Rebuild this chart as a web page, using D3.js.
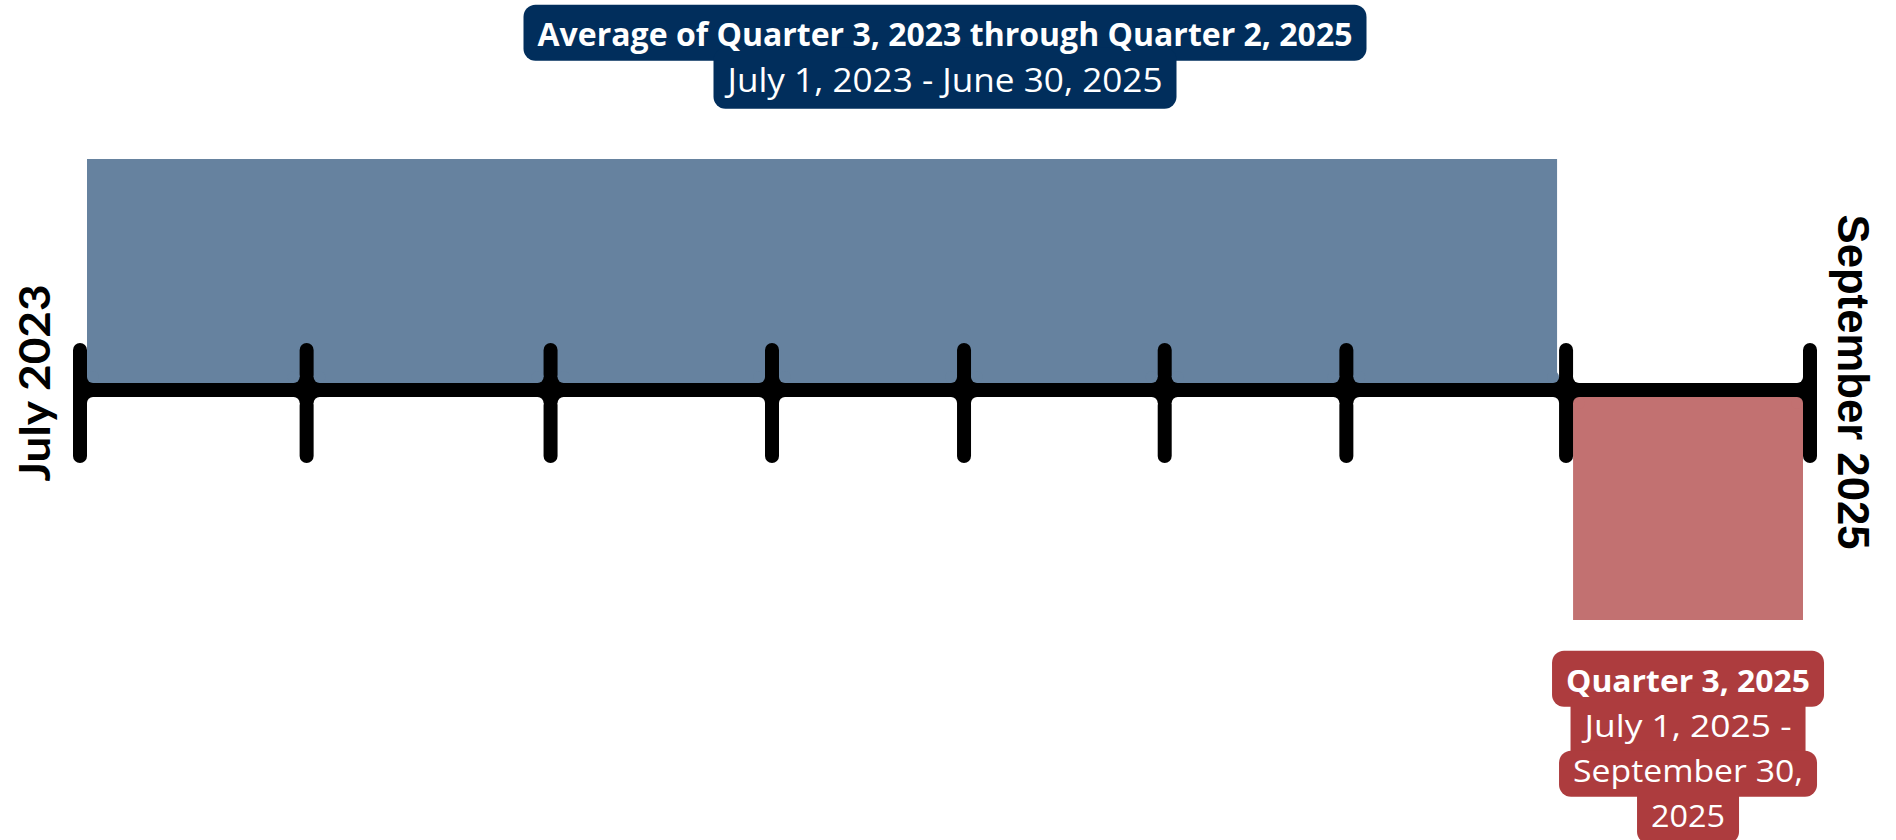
<!DOCTYPE html>
<html>
    <head>
        <meta charset="utf-8">
        <title>Timeline</title>
        <script src="https://d3js.org/d3.v7.min.js"></script>
        <style>
            body { margin: 0; background: #fff; }
        </style>
    </head>
    <body>
        <div id="my_dataviz"></div>

        <script>
            // tick positions along the timeline (0 = July 2023, 100 = end of September 2025)
            var tickPositions = [0, 13.1, 27.2, 40.0, 51.1, 62.7, 73.2, 85.9, 100];

            // end labels
            var startLabel = "July 2023";
            var endLabel = "September 2025";

            // the two periods: which ticks they span and which side of the axis
            var periodNames = ["average", "current"];
            var periodStart = [0, 7];
            var periodEnd = [7, 8];
            var periodValue = [1, -1];
            var periodLines = [
                ["Average of Quarter 3, 2023 through Quarter 2, 2025", "July 1, 2023 - June 30, 2025"],
                ["Quarter 3, 2025", "July 1, 2025 -", "September 30,", "2025"]
            ];

            var barColor = {average: "#66829f", current: "#c27171"};
            var labelColor = {average: "#012e5c", current: "#ad3c3e"};

            var width = 1896, height = 840;
            var axisY = 390, half = 7, r = 6;

            var svg = d3.select("#my_dataviz")
              .append("svg")
                .attr("width", width)
                .attr("height", height);

            var x = d3.scaleLinear()
                .domain([0, 100])
                .range([80, 1810]);

            var y = d3.scaleLinear()
                .domain([-1, 1])
                .range([620, 159]);

            // bars
            periodNames.forEach(function (p, i) {
                var x0 = x(tickPositions[periodStart[i]]) + half,
                    x1 = x(tickPositions[periodEnd[i]]) - (i == 0 ? 9 : half);
                var v = periodValue[i];
                var yTop = v > 0 ? y(v) : axisY + half,
                    yBot = v > 0 ? axisY - half : y(v);
                svg.append("rect")
                    .attr("x", x0)
                    .attr("y", yTop)
                    .attr("width", x1 - x0)
                    .attr("height", yBot - yTop)
                    .attr("fill", barColor[p]);
            });

            // axis line
            svg.append("line")
                .attr("x1", x(0)).attr("x2", x(100))
                .attr("y1", axisY).attr("y2", axisY)
                .attr("stroke", "#000")
                .attr("stroke-width", 14);

            // ticks
            svg.append("g")
                .selectAll("line")
                .data(tickPositions)
                .enter()
                .append("line")
                  .attr("x1", function (d) { return x(d); })
                  .attr("x2", function (d) { return x(d); })
                  .attr("y1", 350)
                  .attr("y2", 456)
                  .attr("stroke", "#000")
                  .attr("stroke-width", 14)
                  .attr("stroke-linecap", "round");

            // colour of the area at a corner of a junction
            function regionColor(ti, side, above) {
                var seg = side < 0 ? ti - 1 : ti; // segment index between ticks
                for (var i = 0; i < periodNames.length; i++) {
                    if (seg >= periodStart[i] && seg < periodEnd[i] && (periodValue[i] > 0) == above)
                        return barColor[periodNames[i]];
                }
                return "#fff";
            }

            // rounded fillets where ticks meet the axis
            var fil = svg.append("g");
            tickPositions.forEach(function (d, ti) {
                var cx = x(d);
                [-1, 1].forEach(function (side) {
                    if ((ti == 0 && side < 0) || (ti == tickPositions.length - 1 && side > 0)) return;
                    fil.append("rect")
                        .attr("x", side < 0 ? cx - half - r : cx)
                        .attr("y", axisY - half - r)
                        .attr("width", half + r)
                        .attr("height", 2 * (half + r))
                        .attr("fill", "#000");
                    [true, false].forEach(function (above) {
                        fil.append("circle")
                            .attr("cx", cx + side * (half + r))
                            .attr("cy", above ? axisY - half - r : axisY + half + r)
                            .attr("r", r)
                            .attr("fill", regionColor(ti, side, above));
                    });
                });
            });

            // end labels
            svg.append("text")
                .attr("transform", "translate(50," + 383 + ") rotate(-90)")
                .attr("text-anchor", "middle")
                .attr("font-family", "Lato")
                .attr("font-weight", 700)
                .attr("font-size", 42)
                .attr("textLength", 197)
                .attr("lengthAdjust", "spacingAndGlyphs")
                .text(startLabel);

            svg.append("text")
                .attr("transform", "translate(1838," + 382 + ") rotate(90)")
                .attr("text-anchor", "middle")
                .attr("font-family", "Liberation Sans")
                .attr("font-weight", 700)
                .attr("font-size", 44)
                .attr("textLength", 335)
                .attr("lengthAdjust", "spacingAndGlyphs")
                .text(endLabel);

            // period labels: one rounded box per line
            var labelCenter = [x(50), (x(tickPositions[7]) + x(tickPositions[8])) / 2];
            var firstBaseline = [45.7, 691.7];
            var lineStep = [46, 45];
            var fontSize = [32, 31];
            var lineWidths = [[815, 435], [244, 207, 230, 74]];

            periodNames.forEach(function (p, i) {
                var g = svg.append("g");
                var lines = periodLines[i];
                var boxes = lines.map(function (t, j) {
                    var b = firstBaseline[i] + j * lineStep[i];
                    var w = lineWidths[i][j] + 28;
                    return {x0: labelCenter[i] - w / 2, x1: labelCenter[i] + w / 2,
                            top: b - 31 - (j == 0 ? 10 : 0), bot: b + 15 + (j == lines.length - 1 ? 2 : 0)};
                });
                boxes.forEach(function (bx, j) {
                    var prev = boxes[j - 1], next = boxes[j + 1];
                    var top = bx.top, bot = bx.bot;
                    if (prev && (prev.x1 - prev.x0) > (bx.x1 - bx.x0)) top -= 13;
                    if (next && (next.x1 - next.x0) > (bx.x1 - bx.x0)) bot += 13;
                    g.append("rect")
                        .attr("x", bx.x0).attr("y", top)
                        .attr("width", bx.x1 - bx.x0).attr("height", bot - top)
                        .attr("rx", 12)
                        .attr("fill", labelColor[p]);
                });
                lines.forEach(function (t, j) {
                    g.append("text")
                        .attr("x", labelCenter[i])
                        .attr("y", firstBaseline[i] + j * lineStep[i])
                        .attr("text-anchor", "middle")
                        .attr("font-family", "Open Sans")
                        .attr("font-weight", j == 0 ? 700 : 400)
                        .attr("font-size", fontSize[i])
                        .attr("fill", "#fff")
                        .attr("textLength", lineWidths[i][j])
                        .attr("lengthAdjust", "spacingAndGlyphs")
                        .text(t);
                });
            });
        </script>
    </body>
</html>
